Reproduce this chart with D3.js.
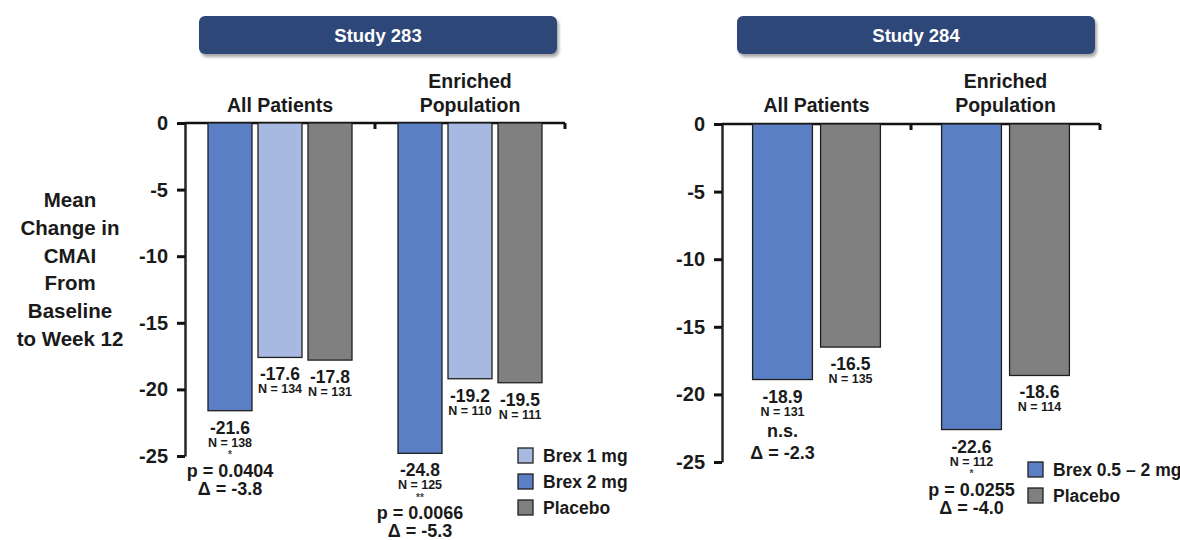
<!DOCTYPE html>
<html>
<head>
<meta charset="utf-8">
<script src="https://cdn.jsdelivr.net/npm/d3@7"></script>
<style>
  body { margin: 0; background: #fff; }
  text { font-family: "Liberation Sans", Arial, sans-serif; font-weight: bold; fill: #1a1a1a; }
</style>
</head>
<body>
<div id="chart"></div>
<script>
// data
var groups = ["All Patients", "Enriched Population"];

var s283Series = ["Brex 2 mg", "Brex 1 mg", "Placebo"];
var s283Values = [[-21.6, -17.6, -17.8], [-24.8, -19.2, -19.5]];
var s283N = [[138, 134, 131], [125, 110, 111]];
var s283Star = ["*", "**"];
var s283P = ["p = 0.0404", "p = 0.0066"];
var s283Delta = ["Δ = -3.8", "Δ = -5.3"];
var s283Legend = ["Brex 1 mg", "Brex 2 mg", "Placebo"];

var s284Series = ["Brex 0.5 – 2 mg", "Placebo"];
var s284Values = [[-18.9, -16.5], [-22.6, -18.6]];
var s284N = [[131, 135], [112, 114]];
var s284Star = ["", "*"];
var s284P = ["n.s.", "p = 0.0255"];
var s284Delta = ["Δ = -2.3", "Δ = -4.0"];
var s284Legend = ["Brex 0.5 – 2 mg", "Placebo"];

var yTicks = [0, -5, -10, -15, -20, -25];

var colors = {
    "Brex 2 mg": "#5b7fc5",
    "Brex 0.5 – 2 mg": "#5b7fc5",
    "Brex 1 mg": "#a7b9e1",
    "Placebo": "#808080"
};

var svg = d3.select("#chart")
    .append("svg")
    .attr("width", 1180)
    .attr("height", 540);

// drop shadow for the header boxes
var defs = svg.append("defs");
defs.append("filter")
    .attr("id", "shadow")
    .attr("x", "-5%").attr("y", "-20%")
    .attr("width", "115%").attr("height", "160%")
    .append("feDropShadow")
    .attr("dx", 2).attr("dy", 3)
    .attr("stdDeviation", 1.5)
    .attr("flood-color", "#000")
    .attr("flood-opacity", 0.35);

// y-axis title
svg.append("text")
    .attr("text-anchor", "middle")
    .style("font-size", "20.5px")
    .selectAll("tspan")
    .data(["Mean", "Change in", "CMAI", "From", "Baseline", "to Week 12"])
    .enter()
    .append("tspan")
    .attr("x", 70)
    .attr("y", function (d, i) { return 207 + i * 27.8; })
    .text(function (d) { return d; });

function drawPanel(opt) {
    var g = svg.append("g");

    // header box
    g.append("rect")
        .attr("x", opt.header[0])
        .attr("y", 16)
        .attr("width", opt.header[1] - opt.header[0])
        .attr("height", 38)
        .attr("rx", 6)
        .attr("fill", "#2d4779")
        .attr("filter", "url(#shadow)");
    g.append("text")
        .attr("x", (opt.header[0] + opt.header[1]) / 2)
        .attr("y", 42)
        .attr("text-anchor", "middle")
        .style("font-size", "18.5px")
        .style("fill", "#fff")
        .text(opt.title);

    var y = d3.scaleLinear().domain([0, -25]).range(opt.yRange);
    var x0 = d3.scaleBand().domain(groups).range(opt.xRange);
    var x1 = d3.scaleBand().domain(opt.series)
        .range([0, x0.bandwidth()])
        .paddingInner(opt.padIn)
        .paddingOuter(opt.padOut);

    // y axis (plain hyphen for negatives, like the original)
    var yAxis = d3.axisLeft(y)
        .tickValues(yTicks)
        .tickFormat(function (d) { return String(d); })
        .tickSize(8)
        .tickSizeOuter(0)
        .tickPadding(9);
    var ya = g.append("g")
        .attr("transform", "translate(" + opt.xRange[0] + ",0)")
        .call(yAxis);
    ya.select(".domain").attr("stroke", "#262626").attr("stroke-width", 2.5);
    ya.selectAll(".tick line").attr("stroke", "#111").attr("stroke-width", 3);
    ya.selectAll(".tick text")
        .style("font-family", "'Liberation Sans', Arial, sans-serif")
        .style("font-weight", "bold")
        .style("font-size", "20px")
        .style("fill", "#1a1a1a");

    // top x axis line with group separator ticks
    g.append("line")
        .attr("x1", opt.xRange[0]).attr("x2", opt.xRange[1])
        .attr("y1", y(0)).attr("y2", y(0))
        .attr("stroke", "#111").attr("stroke-width", 2.5);
    g.selectAll(".sep")
        .data(groups)
        .enter()
        .append("line")
        .attr("x1", function (d) { return x0(d) + x0.bandwidth(); })
        .attr("x2", function (d) { return x0(d) + x0.bandwidth(); })
        .attr("y1", y(0))
        .attr("y2", y(0) + 6)
        .attr("stroke", "#111").attr("stroke-width", 3);

    // group labels
    g.selectAll(".glabel")
        .data(groups)
        .enter()
        .append("text")
        .attr("text-anchor", "middle")
        .style("font-size", "19.5px")
        .each(function (d) {
            var cx = x0(d) + x0.bandwidth() / 2;
            var lines = d == "Enriched Population" ? ["Enriched", "Population"] : [d];
            d3.select(this).selectAll("tspan")
                .data(lines)
                .enter()
                .append("tspan")
                .attr("x", cx)
                .attr("y", function (t, i) { return 112 - (lines.length - 1 - i) * 24; })
                .text(function (t) { return t; });
        });

    // bars and labels
    groups.forEach(function (grp, gi) {
        var gg = g.append("g").attr("transform", "translate(" + x0(grp) + ",0)");
        var rows = opt.series.map(function (s, si) {
            return { s: s, v: opt.values[gi][si], n: opt.n[gi][si] };
        });

        gg.selectAll("rect")
            .data(rows)
            .enter()
            .append("rect")
            .attr("x", function (d) { return x1(d.s); })
            .attr("y", y(0))
            .attr("width", x1.bandwidth())
            .attr("height", function (d) { return y(d.v) - y(0); })
            .attr("fill", function (d) { return colors[d.s]; })
            .attr("stroke", "#1f1f1f")
            .attr("stroke-width", 1.3);

        gg.selectAll(".val")
            .data(rows)
            .enter()
            .append("text")
            .attr("x", function (d) { return x1(d.s) + x1.bandwidth() / 2; })
            .attr("y", function (d) { return y(d.v) + 23; })
            .attr("text-anchor", "middle")
            .style("font-size", "17.5px")
            .text(function (d) { return d.v.toFixed(1); });

        gg.selectAll(".nlab")
            .data(rows)
            .enter()
            .append("text")
            .attr("x", function (d) { return x1(d.s) + x1.bandwidth() / 2; })
            .attr("y", function (d) { return y(d.v) + 36; })
            .attr("text-anchor", "middle")
            .style("font-size", "12.5px")
            .text(function (d) { return "N = " + d.n; });

        // statistics under the first (active) bar
        var first = rows[0];
        var cx = x1(first.s) + x1.bandwidth() / 2;
        var base = y(first.v);
        if (opt.star[gi]) {
            gg.append("text")
                .attr("x", cx).attr("y", base + 47.5)
                .attr("text-anchor", "middle")
                .style("font-size", "10px")
                .style("fill", "#444")
                .text(opt.star[gi]);
            gg.append("text")
                .attr("x", cx).attr("y", base + 66)
                .attr("text-anchor", "middle")
                .style("font-size", "18px")
                .text(opt.p[gi]);
            gg.append("text")
                .attr("x", cx).attr("y", base + 84)
                .attr("text-anchor", "middle")
                .style("font-size", "18px")
                .text(opt.delta[gi]);
        } else {
            gg.append("text")
                .attr("x", cx).attr("y", base + 57)
                .attr("text-anchor", "middle")
                .style("font-size", "18px")
                .text(opt.p[gi]);
            gg.append("text")
                .attr("x", cx).attr("y", base + 79)
                .attr("text-anchor", "middle")
                .style("font-size", "18px")
                .text(opt.delta[gi]);
        }
    });

    // legend
    var lg = g.append("g").attr("transform", "translate(" + opt.legend[0] + "," + opt.legend[1] + ")");
    var items = lg.selectAll("g")
        .data(opt.legendItems)
        .enter()
        .append("g")
        .attr("transform", function (d, i) { return "translate(0," + i * 26 + ")"; });
    items.append("rect")
        .attr("width", 15).attr("height", 15)
        .attr("fill", function (d) { return colors[d]; })
        .attr("stroke", "#1f1f1f")
        .attr("stroke-width", 1.3);
    items.append("text")
        .attr("x", 25).attr("y", 14)
        .style("font-size", "17.5px")
        .text(function (d) { return d; });
}

drawPanel({
    title: "Study 283",
    header: [199, 557],
    xRange: [185, 565],
    yRange: [123, 456],
    series: s283Series,
    values: s283Values,
    n: s283N,
    star: s283Star,
    p: s283P,
    delta: s283Delta,
    padIn: 0.12,
    padOut: 0.46,
    legend: [518, 448],
    legendItems: s283Legend
});

drawPanel({
    title: "Study 284",
    header: [737, 1095],
    xRange: [722, 1100],
    yRange: [124, 462],
    series: s284Series,
    values: s284Values,
    n: s284N,
    star: s284Star,
    p: s284P,
    delta: s284Delta,
    padIn: 0.12,
    padOut: 0.45,
    legend: [1028, 462],
    legendItems: s284Legend
});
</script>
</body>
</html>
